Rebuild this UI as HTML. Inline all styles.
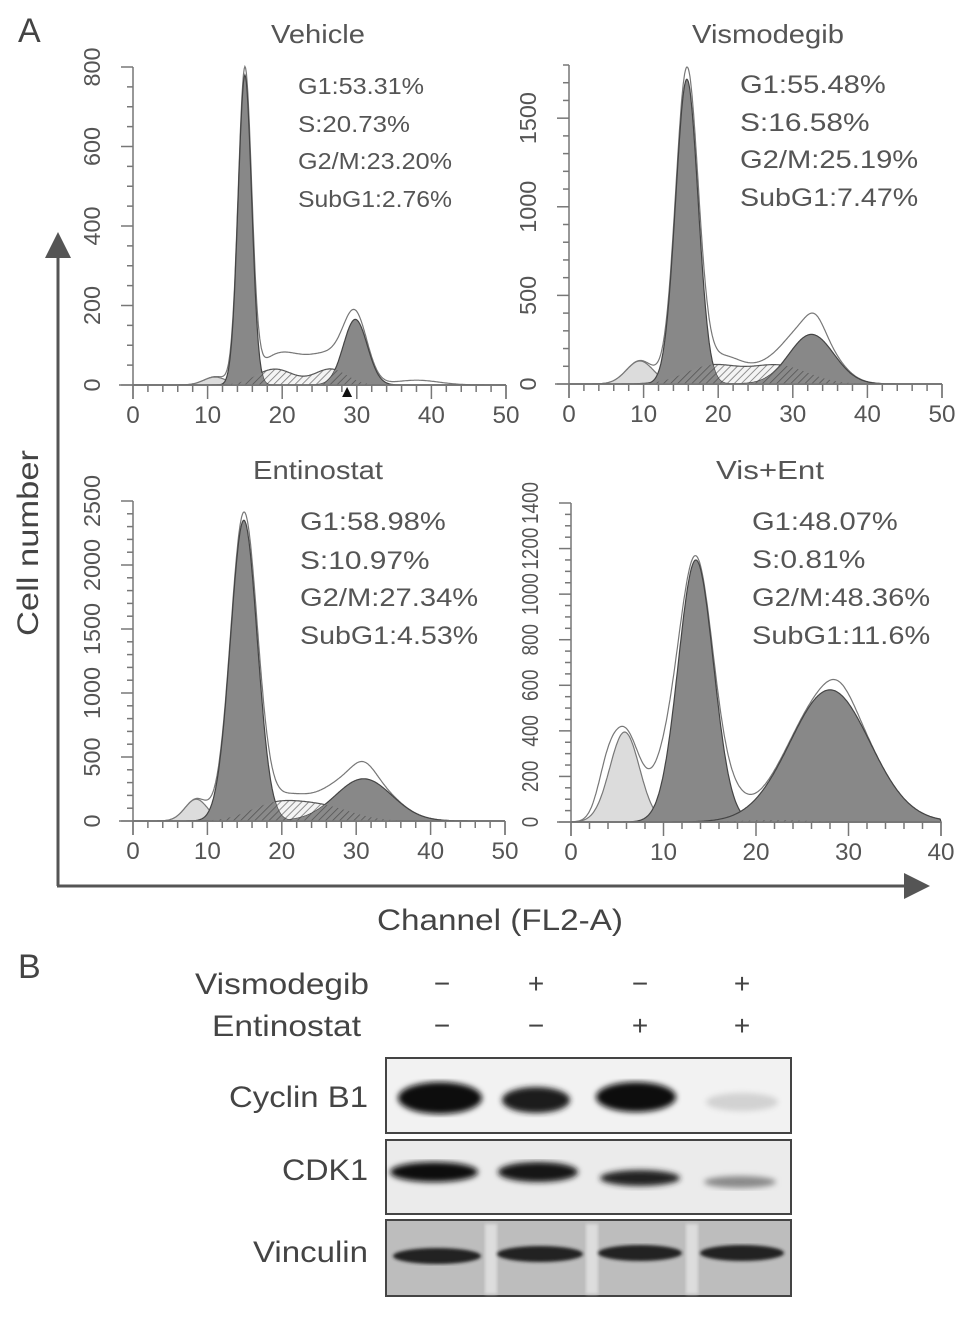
<!DOCTYPE html>
<html><head><meta charset="utf-8">
<style>
html,body{margin:0;padding:0;background:#fff;}
svg{display:block;font-family:"Liberation Sans",Arial,sans-serif;}
</style></head>
<body>
<svg id="fig" width="969" height="1317" viewBox="0 0 969 1317">
<defs>
<pattern id="hatch" patternUnits="userSpaceOnUse" width="5" height="5" patternTransform="rotate(45)">
<rect width="5" height="5" fill="#f4f4f4"/><line x1="0" y1="0" x2="0" y2="5" stroke="#777" stroke-width="1.6"/>
</pattern>
<pattern id="hatchDark" patternUnits="userSpaceOnUse" width="5" height="5" patternTransform="rotate(45)">
<rect width="5" height="5" fill="#8a8a8a"/><line x1="0" y1="0" x2="0" y2="5" stroke="#555" stroke-width="1.6"/>
</pattern>
<filter id="blur2"><feGaussianBlur stdDeviation="3"/></filter>
<filter id="blur1"><feGaussianBlur stdDeviation="1.5"/></filter>
</defs>
<text x="18" y="42" font-size="34" fill="#444">A</text>
<text x="18" y="978" font-size="34" fill="#444">B</text>
<g id="charts"></g>
<g>
<line x1="58" y1="886" x2="58" y2="252" stroke="#555" stroke-width="3"/>
<polygon points="45,258 58,232 71,258" fill="#555"/>
</g>
<g>
<line x1="57" y1="886" x2="910" y2="886" stroke="#555" stroke-width="3"/>
<polygon points="904,873 930,886 904,899" fill="#555"/>
</g>
<text transform="translate(38,543) rotate(-90)" text-anchor="middle" font-size="30" textLength="186" lengthAdjust="spacingAndGlyphs" fill="#444">Cell number</text>
<text x="500" y="930" text-anchor="middle" font-size="30" textLength="246" lengthAdjust="spacingAndGlyphs" fill="#444">Channel (FL2-A)</text>
<g>
<text x="369" y="994" text-anchor="end" font-size="30" textLength="174" lengthAdjust="spacingAndGlyphs" fill="#444">Vismodegib</text>
<text x="361" y="1036" text-anchor="end" font-size="30" textLength="149" lengthAdjust="spacingAndGlyphs" fill="#444">Entinostat</text>
<g font-size="28" fill="#444" text-anchor="middle">
<text x="442" y="993">−</text>
<text x="536" y="993">+</text>
<text x="640" y="993">−</text>
<text x="742" y="993">+</text>
<text x="442" y="1035">−</text>
<text x="536" y="1035">−</text>
<text x="640" y="1035">+</text>
<text x="742" y="1035">+</text>
</g>
<text x="368" y="1107" text-anchor="end" font-size="30" textLength="139" lengthAdjust="spacingAndGlyphs" fill="#444">Cyclin B1</text>
<text x="368" y="1180" text-anchor="end" font-size="30" textLength="86" lengthAdjust="spacingAndGlyphs" fill="#444">CDK1</text>
<text x="368" y="1262" text-anchor="end" font-size="30" textLength="115" lengthAdjust="spacingAndGlyphs" fill="#444">Vinculin</text>
<g>
<rect x="386" y="1058" width="405" height="75" fill="#f2f2f2" stroke="#444" stroke-width="2"/>
<g filter="url(#blur2)">
<ellipse cx="440" cy="1098" rx="42" ry="16" fill="#0c0c0c"/>
<ellipse cx="536" cy="1100" rx="34" ry="13" fill="#1a1a1a"/>
<ellipse cx="636" cy="1097" rx="40" ry="15" fill="#111"/>
<ellipse cx="742" cy="1102" rx="36" ry="9" fill="#d2d2d2"/>
</g></g>
<g>
<rect x="386" y="1140" width="405" height="74" fill="#ebebeb" stroke="#444" stroke-width="2"/>
<g filter="url(#blur2)">
<ellipse cx="434" cy="1172" rx="44" ry="10" fill="#111"/>
<ellipse cx="538" cy="1172" rx="40" ry="10" fill="#151515"/>
<ellipse cx="640" cy="1178" rx="40" ry="8" fill="#222"/>
<ellipse cx="740" cy="1182" rx="36" ry="6" fill="#8a8a8a"/>
</g></g>
<g>
<rect x="386" y="1220" width="405" height="76" fill="#bdbdbd" stroke="#444" stroke-width="2"/>
<rect x="485" y="1224" width="12" height="70" fill="#ddd" filter="url(#blur1)"/>
<rect x="586" y="1224" width="12" height="70" fill="#ddd" filter="url(#blur1)"/>
<rect x="686" y="1224" width="12" height="70" fill="#ddd" filter="url(#blur1)"/>
<g filter="url(#blur1)">
<ellipse cx="437" cy="1256" rx="44" ry="8" fill="#222"/>
<ellipse cx="540" cy="1254" rx="43" ry="8" fill="#222"/>
<ellipse cx="640" cy="1253" rx="42" ry="8" fill="#222"/>
<ellipse cx="742" cy="1253" rx="42" ry="8" fill="#222"/>
</g></g>
</g>
</svg>
<script>
// ---- data ----
const panelTitles = ["Vehicle","Vismodegib","Entinostat","Vis+Ent"];
const g1Pct = ["G1:53.31%","G1:55.48%","G1:58.98%","G1:48.07%"];
const sPct = ["S:20.73%","S:16.58%","S:10.97%","S:0.81%"];
const g2Pct = ["G2/M:23.20%","G2/M:25.19%","G2/M:27.34%","G2/M:48.36%"];
const subPct = ["SubG1:2.76%","SubG1:7.47%","SubG1:4.53%","SubG1:11.6%"];
const yMax = [800, 1800, 2500, 1400];
const yTickStep = [200, 500, 500, 200];
const yMinorStep = [50, 100, 100, 50];
const xMax = [50, 50, 50, 40];
// component peaks: [center channel, height, sd]
const g1Peak = [[15,780,0.9],[15.8,1720,1.5],[14.9,2350,1.8],[13.5,1150,1.9]];
const g2Peak = [[29.8,165,1.6],[32.5,280,3.0],[31,330,3.8],[28,580,4.3]];
const sA = [[19,40,2.5],[19,100,3.5],[19,120,3.5],[20,5,3]];
const sB = [[26.5,40,2.2],[28,105,4],[25.5,110,4],[24,5,3]];
const subG1 = [[11,20,1.5],[9.5,130,1.8],[8.5,170,1.5],[5.8,395,1.6]];
const extraEnv = [[[22.5,55,4],[38,12,3]],[[21,50,2],[33,70,1.2]],[[21,40,2],[31,90,1.5]],[[3.8,120,1],[10,160,1.6],[17.5,60,1.5],[29,50,1.5]]];

// ---- layout ----
const layout = [
 {ax:133, y0:385, yTop:67, x1:506, tx:318, ty:43, lx:298, ly:[94,132,169,207], fs:23, cw:14, tw:94, ycw:13},
 {ax:569, y0:384, yTop:65, x1:942, tx:768, ty:43, lx:740, ly:[93,131,168,206], fs:25, cw:16.2, tw:152, ycw:13},
 {ax:133, y0:821, yTop:501, x1:505, tx:318, ty:479, lx:300, ly:[530,569,606,644], fs:25, cw:16.2, tw:130, ycw:13},
 {ax:571, y0:822, yTop:503, x1:941, tx:770, ty:479, lx:752, ly:[530,568,606,644], fs:25, cw:16.2, tw:108, ycw:10.5}
];
const NS="http://www.w3.org/2000/svg";
const root=document.getElementById('charts');
function mk(tag,attrs,parent){const e=document.createElementNS(NS,tag);for(const k in attrs)e.setAttribute(k,attrs[k]);parent.appendChild(e);return e;}
function gauss(x,c){return c[1]*Math.exp(-0.5*Math.pow((x-c[0])/c[2],2));}

panelTitles.forEach((title,i)=>{
 const L=layout[i];
 const g=mk('g',{},root);
 
 
 const xs=v=>L.ax+(L.x1-L.ax)*v/xMax[i];
 const ys=v=>L.y0-(L.y0-L.yTop)*v/yMax[i];
 function curve(fn,fill,stroke,name){
  let d='M'+xs(0)+','+ys(0);
  for(let x=0;x<=xMax[i];x+=0.1){d+=' L'+xs(x).toFixed(1)+','+ys(fn(x)).toFixed(1);}
  d+=' L'+xs(xMax[i])+','+ys(0)+' Z';
  const p=mk('path',{d:d,fill:fill,stroke:stroke,'stroke-width':1.2},g);
  
  
 }
 const env=x=>gauss(x,g1Peak[i])+gauss(x,g2Peak[i])+gauss(x,sA[i])+gauss(x,sB[i])+gauss(x,subG1[i])+extraEnv[i].reduce((a,c)=>a+gauss(x,c),0);
 curve(env,'#fff','#777','raw-envelope');
 curve(x=>gauss(x,subG1[i]),'#dcdcdc','#777','subg1-peak');
 curve(x=>gauss(x,sA[i])+gauss(x,sB[i]),'url(#hatch)','#555','s-phase');
 curve(x=>gauss(x,g1Peak[i]),'#888','#444','g1-peak');
 curve(x=>gauss(x,g2Peak[i]),'#888','#444','g2m-peak');
 curve(x=>Math.min(gauss(x,sA[i])+gauss(x,sB[i]),Math.max(gauss(x,g1Peak[i]),gauss(x,g2Peak[i]))),'url(#hatchDark)','none','s-overlap');
 const ax=mk('g',{stroke:'#777','stroke-width':1.5},g);
 
 
 mk('line',{x1:L.ax,y1:L.yTop,x2:L.ax,y2:L.y0+14},ax);
 mk('line',{x1:L.ax-14,y1:L.y0,x2:L.x1,y2:L.y0},ax);
 mk('line',{x1:L.x1,y1:L.y0,x2:L.x1,y2:L.y0+14},ax);
 for(let v=0;v<=yMax[i];v+=yMinorStep[i]){const big=v%yTickStep[i]===0;mk('line',{x1:L.ax-(big?12:6),y1:ys(v),x2:L.ax,y2:ys(v)},ax);}
 for(let v=0;v<=xMax[i];v+=2){const big=v%10===0;mk('line',{x1:xs(v),y1:L.y0,x2:xs(v),y2:L.y0+(big?14:7)},ax);}
 for(let v=0;v<=xMax[i];v+=10){
  const s=String(v);
  const t=mk('text',{x:xs(v),y:L.y0+38,'text-anchor':'middle','font-size':24,fill:'#555',textLength:s.length*13.5,lengthAdjust:'spacingAndGlyphs'},g);t.textContent=s;
  
  
 }
 for(let v=0;v<=yMax[i];v+=yTickStep[i]){
  const s=String(v);
  const t=mk('text',{transform:'translate('+(L.ax-33)+','+ys(v)+') rotate(-90)','text-anchor':'middle','font-size':23,fill:'#555',textLength:s.length*L.ycw,lengthAdjust:'spacingAndGlyphs'},g);t.textContent=s;
  
  
 }
 const tt=mk('text',{x:L.tx,y:L.ty,'text-anchor':'middle','font-size':26,fill:'#555',textLength:L.tw,lengthAdjust:'spacingAndGlyphs'},g);tt.textContent=title;
 
 
 [g1Pct[i],sPct[i],g2Pct[i],subPct[i]].forEach((s,k)=>{
  const t=mk('text',{x:L.lx,y:L.ly[k],'font-size':L.fs,fill:'#555',textLength:s.length*L.cw,lengthAdjust:'spacingAndGlyphs'},g);t.textContent=s;
  
  
 });
 if(i===0){const m=mk('polygon',{points:(xs(28.7)-5)+','+(L.y0+12)+' '+xs(28.7)+','+(L.y0+2)+' '+(xs(28.7)+5)+','+(L.y0+12),fill:'#111'},g);
  
  }
});
</script>
</body></html>
